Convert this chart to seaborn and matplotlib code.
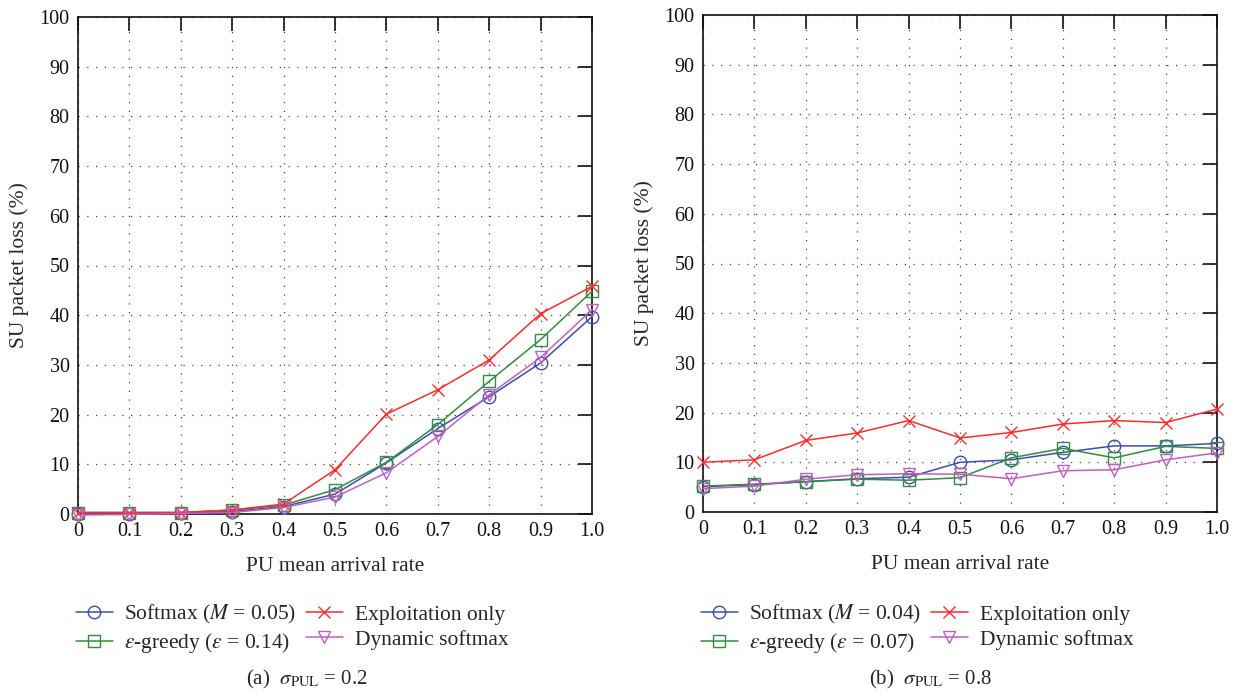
import numpy as np
import pandas as pd
import matplotlib
matplotlib.use("Agg")
import matplotlib.pyplot as plt
import seaborn as sns
from matplotlib.lines import Line2D

# PU mean arrival rate
rate = [0, 0.1, 0.2, 0.3, 0.4, 0.5, 0.6, 0.7, 0.8, 0.9, 1.0]
rate_labels = ["0", "0.1", "0.2", "0.3", "0.4", "0.5", "0.6", "0.7", "0.8", "0.9", "1.0"]

# (a) sigma_PUL = 0.2
a_softmax = [0.0, 0.0, 0.2, 0.5, 1.5, 4.0, 10.3, 17.2, 23.6, 30.4, 39.7]
a_egreedy = [0.3, 0.3, 0.3, 0.8, 1.8, 4.9, 10.4, 18.0, 26.7, 35.1, 44.8]
a_exploit = [0.3, 0.3, 0.3, 0.8, 2.0, 8.9, 20.1, 25.0, 31.0, 40.3, 45.8]
a_dynamic = [-0.2, -0.1, 0.1, 0.3, 1.3, 3.4, 8.3, 15.6, 24.0, 31.5, 41.1]

# (b) sigma_PUL = 0.8
b_softmax = [5.1, 5.5, 6.1, 6.7, 7.0, 10.0, 10.5, 12.0, 13.3, 13.3, 13.8]
b_egreedy = [5.2, 5.6, 6.1, 6.6, 6.4, 6.9, 10.9, 12.8, 10.9, 13.2, 12.8]
b_exploit = [10.0, 10.5, 14.4, 15.9, 18.4, 14.9, 16.0, 17.7, 18.4, 18.0, 20.7]
b_dynamic = [4.7, 5.2, 6.6, 7.5, 7.7, 7.6, 6.7, 8.3, 8.5, 10.5, 11.9]

names_a = [r"Softmax ($M$ = 0.05)", r"$\varepsilon$-greedy ($\varepsilon$ = 0.14)",
           "Exploitation only", "Dynamic softmax"]
names_b = [r"Softmax ($M$ = 0.04)", r"$\varepsilon$-greedy ($\varepsilon$ = 0.07)",
           "Exploitation only", "Dynamic softmax"]

colors = ["#3b4cb8", "#2f8f3a", "#ff2a2a", "#c25ec2"]
markers = ["o", "s", "x", "v"]

sns.set_theme(style="white")
plt.rcParams["font.family"] = ["Liberation Serif", "DejaVu Serif"]
plt.rcParams["mathtext.fontset"] = "stix"

fig = plt.figure(figsize=(12.4, 6.94), dpi=100)
ax_a = fig.add_axes([78 / 1240, 1 - 514 / 694, 514 / 1240, 497 / 694])
ax_b = fig.add_axes([703 / 1240, 1 - 512 / 694, 514 / 1240, 497 / 694])

panels = [
    (ax_a, [a_softmax, a_egreedy, a_exploit, a_dynamic], names_a,
     r"(a)  $\sigma_{\mathrm{PUL}}$ = 0.2", 307),
    (ax_b, [b_softmax, b_egreedy, b_exploit, b_dynamic], names_b,
     r"(b)  $\sigma_{\mathrm{PUL}}$ = 0.8", 931),
]

for ax, series, names, caption, cap_x in panels:
    for vals, c, m in zip(series, colors, markers):
        df = pd.DataFrame({"rate": rate, "loss": vals})
        sns.lineplot(data=df, x="rate", y="loss", ax=ax, color=c, marker=m,
                     markersize=9, mfc="none", mec=c, mew=1.0, lw=1.1,
                     clip_on=False, zorder=3)
    ax.set_xlim(0, 1.0)
    ax.set_ylim(0, 100)
    ax.set_xticks(rate)
    ax.set_xticklabels(rate_labels)
    ax.set_yticks(np.arange(0, 101, 10))
    ax.grid(True, color="#444444", linestyle=(0, (1, 6)), linewidth=0.9)
    ax.tick_params(direction="in", length=10, width=1.2, top=True, right=True,
                   labelsize=14.5, colors="#111111", pad=6)
    for s in ax.spines.values():
        s.set_color("#111111")
        s.set_linewidth(1.2)
    ax.set_xlabel("PU mean arrival rate", fontsize=15.5)
    ax.set_ylabel("SU packet loss (%)", fontsize=15.5)
    ax.xaxis.set_label_coords(0.5, -0.087)
    ax.yaxis.set_label_coords(-0.095, 0.5)

    handles = [Line2D([], [], color=c, marker=m, markersize=9, mfc="none",
                      mec=c, mew=1.0, lw=1.1) for c, m in zip(colors, markers)]
    x0 = ax.get_position().x0 - 2 / 1240
    fig.legend(handles, names, loc="upper left", bbox_to_anchor=(x0, 1 - 603 / 694),
               ncol=2, frameon=False, fontsize=15.5, borderpad=0, borderaxespad=0,
               handlelength=1.7, handletextpad=0.55, columnspacing=0.45,
               labelspacing=0.25)
    fig.text(cap_x / 1240, 1 - 679 / 694, caption, ha="center", va="center",
             fontsize=15)

fig.savefig("out.png", dpi=100)
